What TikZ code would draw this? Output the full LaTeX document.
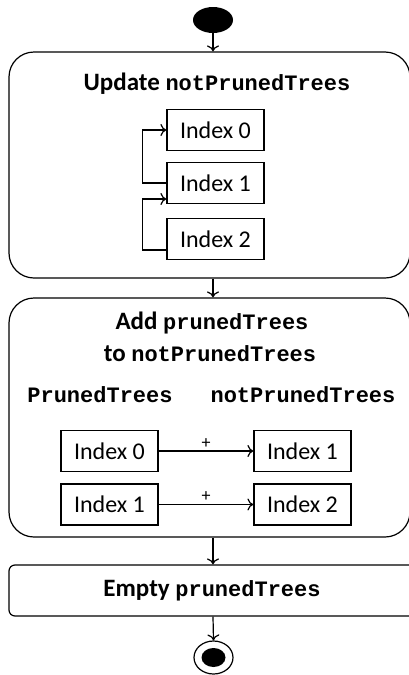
\documentclass[tikz,border=0pt]{standalone}
\usepackage{fontspec}
\setmainfont{Carlito}
\setmonofont{Liberation Mono}
\usetikzlibrary{shapes.geometric,arrows.meta}

\newcommand{\code}[1]{{\fontsize{22}{26}\selectfont\ttfamily\bfseries #1}}

\tikzset{
    activity/.style={draw, line width=1.2pt, rounded corners=25pt, minimum width=401pt},
    idxbox/.style={draw, line width=1.2pt, minimum width=97pt, minimum height=41pt,
        inner sep=0pt, font=\fontsize{24}{28}\selectfont},
    title/.style={inner sep=0pt, font=\fontsize{25}{30}\selectfont\bfseries},
    flow/.style={-{To[length=6pt,width=12pt]}, line width=1.2pt},
}

\begin{document}
\begin{tikzpicture}[x=1pt, y=-1pt]

    \useasboundingbox (0,0) rectangle (409,675);

    \node[ellipse, fill=black, minimum width=40pt, minimum height=26pt, inner sep=0pt] (start) at (213,20) {};

    \node[activity, minimum height=226pt] (upd) at (209.5,165) {};
    \node[title] (updtitle) at (217,84) {Update \code{notPrunedTrees}};
    \node[idxbox] (u0) at (215.5,130) {Index 0};
    \node[idxbox] (u1) at (215.5,183) {Index 1};
    \node[idxbox] (u2) at (215.5,239) {Index 2};

    \draw[flow] (u1.west) -- ++(-24,0) |- (u0.west);
    \draw[flow] ([yshift=-11pt]u2.west) -- ++(-24,0) |- ([yshift=-16pt]u1.west);

    \node[activity, minimum height=239pt] (add) at (209.5,417.5) {};
    \node[title] (addtitle) at (212,323) {Add \code{prunedTrees}};
    \node[title] (addtitle2) at (210,354) {to \code{notPrunedTrees}};
    \node[inner sep=0pt] (prlabel) at (100,395) {\code{PrunedTrees}};
    \node[inner sep=0pt] (nprlabel) at (303,395) {\code{notPrunedTrees}};
    \node[idxbox] (p0) at (109.5,451) {Index 0};
    \node[idxbox] (n1) at (302.5,451) {Index 1};
    \node[idxbox] (p1) at (109.5,504.5) {Index 1};
    \node[idxbox] (n2) at (302.5,504.5) {Index 2};

    \draw[flow] (p0) -- node[above, font=\fontsize{18}{20}\selectfont, inner sep=2pt] {+} (n1);
    \draw[flow] (p1) -- node[above, font=\fontsize{18}{20}\selectfont, inner sep=2pt] {+} (n2);

    \node[activity, rounded corners=6pt, minimum width=406pt, minimum height=51pt] (empty) at (212,590.5)
        {\fontsize{25}{30}\selectfont\bfseries Empty \code{prunedTrees}};

    \node[ellipse, draw, line width=1.2pt, minimum width=39pt, minimum height=33pt, inner sep=0pt] (stop) at (213.5,657.5) {};
    \node[ellipse, fill=black, minimum width=24pt, minimum height=19pt, inner sep=0pt] (stopdot) at (stop.center) {};

    \draw[flow] (start.south) -- (start.south |- upd.north);
    \draw[flow] (start.south |- upd.south) -- (start.south |- add.north);
    \draw[flow] (start.south |- add.south) -- (start.south |- empty.north);
    \draw[flow] (start.south |- empty.south) -- (stop.north);

\end{tikzpicture}
\end{document}
